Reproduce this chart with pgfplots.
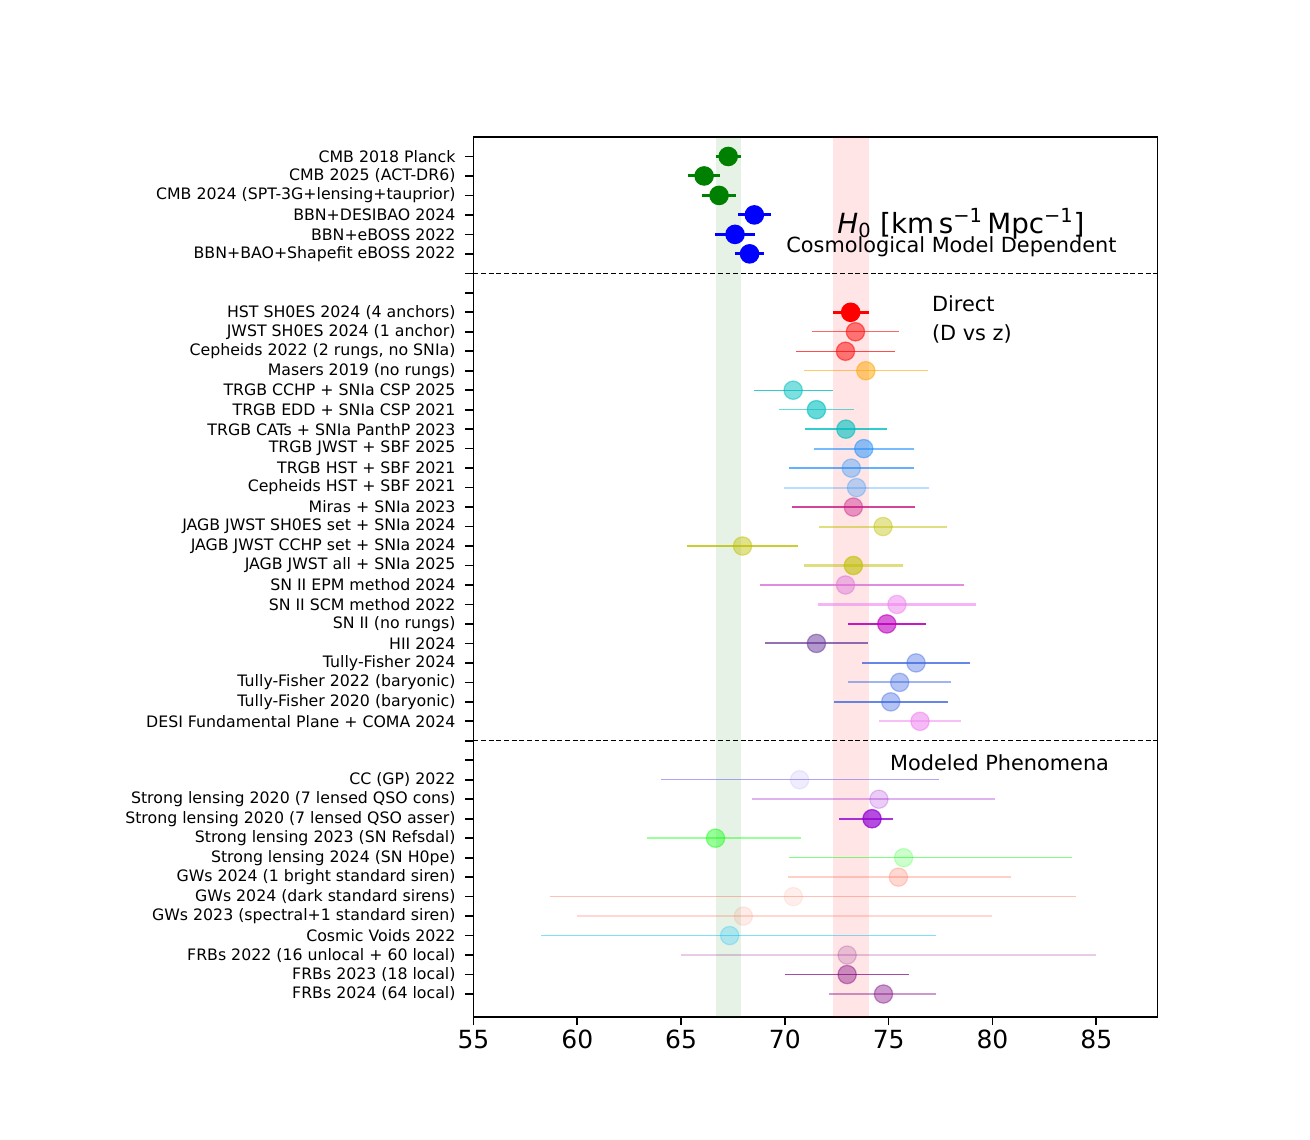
\documentclass[border=0pt]{standalone}
\usepackage{fontspec}
\setmainfont{DejaVu Sans}
\usepackage{pgfplots}
\pgfplotsset{compat=1.18}
\definecolor{mgreen}{HTML}{008000}
\definecolor{mblue}{HTML}{0000FF}
\definecolor{mred}{HTML}{FF0000}
\definecolor{morange}{HTML}{FFA500}
\definecolor{mc}{HTML}{00BFBF}
\definecolor{mdodger}{HTML}{1E90FF}
\definecolor{mmvr}{HTML}{C71585}
\definecolor{my}{HTML}{BFBF00}
\definecolor{morchid}{HTML}{DA70D6}
\definecolor{mviolet}{HTML}{EE82EE}
\definecolor{mm}{HTML}{BF00BF}
\definecolor{mrebecca}{HTML}{663399}
\definecolor{mroyal}{HTML}{4169E1}
\definecolor{mslate}{HTML}{7B68EE}
\definecolor{mdviolet}{HTML}{9400D3}
\definecolor{mlime}{HTML}{00FF00}
\definecolor{mtomato}{HTML}{FF6347}
\definecolor{msky}{HTML}{00BFFF}
\definecolor{mpurple}{HTML}{800080}
% #1 y, #2 x, #3 err-, #4 err+, #5 mark colour, #6 mark opacity, #7 bar colour, #8 bar opacity, #9 bar width
\newcommand{\hpt}[9]{\addplot[only marks, mark=*, mark size=6.6pt, color=#5,
  mark options={draw=#5, fill=#5, opacity=#6, line width=0.9pt, solid},
  error bars/.cd, x dir=both, x explicit, error mark=none,
  error bar style={line width=#9, color=#7, opacity=#8, solid}]
  coordinates {(#2,#1) += (#4,0) -= (#3,0)};}
\begin{document}
\begin{tikzpicture}
\path[use as bounding box] (-340.9pt,-88.56pt) rectangle (602.3pt,732.24pt);
\begin{axis}[at={(0,0)}, anchor=south west,
  width=492.5pt, height=633.6pt, scale only axis,
  xmin=55, xmax=87.95, ymin=-1, ymax=44.18, y dir=reverse,
  xtick={55,60,...,85}, ytick={0,...,43},
  yticklabels={
    {CMB 2018 Planck},{CMB 2025 (ACT-DR6)},{CMB 2024 (SPT-3G+lensing+tauprior)},
    {BBN+DESIBAO 2024},{BBN+eBOSS 2022},{BBN+BAO+Shapefit eBOSS 2022},{},{},
    {HST SH0ES 2024 (4 anchors)},{JWST SH0ES 2024 (1 anchor)},{Cepheids 2022 (2 rungs, no SNIa)},
    {Masers 2019 (no rungs)},{TRGB CCHP + SNIa CSP 2025},{TRGB EDD + SNIa CSP 2021},
    {TRGB CATs + SNIa PanthP 2023},{TRGB JWST + SBF 2025},{TRGB HST + SBF 2021},
    {Cepheids HST + SBF 2021},{Miras + SNIa 2023},{JAGB JWST SH0ES set + SNIa 2024},
    {JAGB JWST CCHP set + SNIa 2024},{JAGB JWST all + SNIa 2025},{SN II EPM method 2024},
    {SN II SCM method 2022},{SN II (no rungs)},{HII 2024},{Tully-Fisher 2024},
    {Tully-Fisher 2022 (baryonic)},{Tully-Fisher 2020 (baryonic)},
    {DESI Fundamental Plane + COMA 2024},{},{},
    {CC (GP) 2022},{Strong lensing 2020 (7 lensed QSO cons)},{Strong lensing 2020 (7 lensed QSO asser)},
    {Strong lensing 2023 (SN Refsdal)},{Strong lensing 2024 (SN H0pe)},
    {GWs 2024 (1 bright standard siren)},{GWs 2024 (dark standard sirens)},
    {GWs 2023 (spectral+1 standard siren)},{Cosmic Voids 2022},
    {FRBs 2022 (16 unlocal + 60 local)},{FRBs 2023 (18 local)},{FRBs 2024 (64 local)}},
  tick align=outside, xtick pos=lower, ytick pos=left,
  major tick length=5.8pt,
  axis line style={line width=1.2pt},
  every tick/.style={line width=1.2pt, black},
  /pgf/number format/assume math mode=true,
  xticklabel style={font=\fontsize{18}{20}\selectfont},
  yticklabel style={font=\fontsize{11.35}{13}\selectfont, xshift=-3.6pt},
]
% bands
\addplot[draw=none, fill=mgreen, fill opacity=0.1] coordinates {(66.67,-1) (67.87,-1) (67.87,44.18) (66.67,44.18)} -- cycle;
\addplot[draw=none, fill=mred, fill opacity=0.1] coordinates {(72.31,-1) (74.03,-1) (74.03,44.18) (72.31,44.18)} -- cycle;
% separators
\addplot[black, line width=0.8pt, dash pattern=on 3.5pt off 2pt] coordinates {(55,6) (87.95,6)};
\addplot[black, line width=0.8pt, dash pattern=on 3.5pt off 2pt] coordinates {(55,30) (87.95,30)};
% cosmological model dependent
\hpt{0}{67.27}{0.6}{0.6}{mgreen}{1}{mgreen}{1}{2.2pt}
\hpt{1}{66.11}{0.77}{0.77}{mgreen}{1}{mgreen}{1}{2.2pt}
\hpt{2}{66.83}{0.8}{0.8}{mgreen}{1}{mgreen}{1}{2.2pt}
\hpt{3}{68.53}{0.78}{0.78}{mblue}{1}{mblue}{1}{2.2pt}
\hpt{4}{67.6}{0.95}{0.95}{mblue}{1}{mblue}{1}{2.2pt}
\hpt{5}{68.3}{0.7}{0.7}{mblue}{1}{mblue}{1}{2.2pt}
% direct
\hpt{8}{73.17}{0.86}{0.86}{mred}{1}{mred}{1}{2.2pt}
\hpt{9}{73.4}{2.1}{2.1}{mred}{0.5}{mred}{0.6}{1pt}
\hpt{10}{72.92}{2.4}{2.4}{mred}{0.5}{mred}{0.7}{1pt}
\hpt{11}{73.9}{3.0}{3.0}{morange}{0.5}{morange}{0.6}{1pt}
\hpt{12}{70.4}{1.9}{1.9}{mc}{0.5}{mc}{0.8}{1pt}
\hpt{13}{71.52}{1.8}{1.8}{mc}{0.6}{mc}{0.6}{1pt}
\hpt{14}{72.94}{1.98}{1.98}{mc}{0.6}{mc}{0.8}{1pt}
\hpt{15}{73.8}{2.4}{2.4}{mdodger}{0.5}{mdodger}{0.6}{1.5pt}
\hpt{16}{73.2}{3.0}{3.0}{mdodger}{0.35}{mdodger}{0.7}{1pt}
\hpt{17}{73.45}{3.5}{3.5}{mdodger}{0.3}{mdodger}{0.3}{1.5pt}
\hpt{18}{73.3}{2.96}{2.96}{mmvr}{0.4}{mmvr}{0.8}{1pt}
\hpt{19}{74.73}{3.1}{3.1}{my}{0.4}{my}{0.5}{1.5pt}
\hpt{20}{67.96}{2.65}{2.65}{my}{0.45}{my}{0.8}{1pt}
\hpt{21}{73.3}{2.4}{2.4}{my}{0.6}{my}{0.5}{1.5pt}
\hpt{22}{72.92}{4.1}{5.7}{morchid}{0.45}{morchid}{0.8}{1pt}
\hpt{23}{75.4}{3.8}{3.8}{mviolet}{0.5}{mviolet}{0.6}{1.5pt}
\hpt{24}{74.91}{1.88}{1.88}{mm}{0.6}{mm}{0.9}{1pt}
\hpt{25}{71.52}{2.5}{2.5}{mrebecca}{0.5}{mrebecca}{0.7}{1.5pt}
\hpt{26}{76.32}{2.6}{2.6}{mroyal}{0.4}{mroyal}{0.8}{1pt}
\hpt{27}{75.53}{2.48}{2.48}{mroyal}{0.4}{mroyal}{0.5}{1.5pt}
\hpt{28}{75.1}{2.75}{2.75}{mroyal}{0.4}{mroyal}{0.8}{1pt}
\hpt{29}{76.51}{1.98}{1.98}{mviolet}{0.55}{mviolet}{0.5}{1.5pt}
% modeled phenomena
\hpt{32}{70.71}{6.7}{6.7}{mslate}{0.12}{mslate}{0.6}{0.9pt}
\hpt{33}{74.53}{6.1}{5.6}{mdviolet}{0.2}{mdviolet}{0.3}{1.5pt}
\hpt{34}{74.2}{1.6}{1.0}{mdviolet}{0.7}{mdviolet}{0.8}{1.3pt}
\hpt{35}{66.66}{3.3}{4.1}{mlime}{0.4}{mlime}{0.4}{1.5pt}
\hpt{36}{75.72}{5.5}{8.1}{mlime}{0.2}{mlime}{0.5}{1pt}
\hpt{37}{75.47}{5.3}{5.4}{mtomato}{0.25}{mtomato}{0.3}{1.5pt}
\hpt{38}{70.41}{11.7}{13.6}{mtomato}{0.1}{mtomato}{0.4}{1pt}
\hpt{39}{68.0}{8.0}{12.0}{mtomato}{0.12}{mtomato}{0.25}{1.5pt}
\hpt{40}{67.34}{9.1}{9.95}{msky}{0.25}{msky}{0.5}{1pt}
\hpt{41}{73.0}{8.0}{12.0}{mpurple}{0.18}{mpurple}{0.2}{1.5pt}
\hpt{42}{73.0}{3.0}{3.0}{mpurple}{0.4}{mpurple}{0.7}{1pt}
\hpt{43}{74.75}{2.6}{2.55}{mpurple}{0.4}{mpurple}{0.4}{1.3pt}
% annotations
\node[anchor=base west, font=\fontsize{20}{24}\selectfont, inner sep=0pt] at (axis cs:72.52,3.95)
  {{\itshape H}\textsubscript{0} [km\,s\textsuperscript{−1}\,Mpc\textsuperscript{−1}]};
\node[anchor=base west, font=\fontsize{15}{18}\selectfont, inner sep=0pt] at (axis cs:70.06,4.93) {Cosmological Model Dependent};
\node[anchor=base west, font=\fontsize{15}{18}\selectfont, inner sep=0pt] at (axis cs:77.08,7.97) {Direct};
\node[anchor=base west, font=\fontsize{15}{18}\selectfont, inner sep=0pt] at (axis cs:77.08,9.44) {(D vs z)};
\node[anchor=base west, font=\fontsize{15}{18}\selectfont, inner sep=0pt] at (axis cs:75.06,31.5) {Modeled Phenomena};
\end{axis}
\end{tikzpicture}
\end{document}
